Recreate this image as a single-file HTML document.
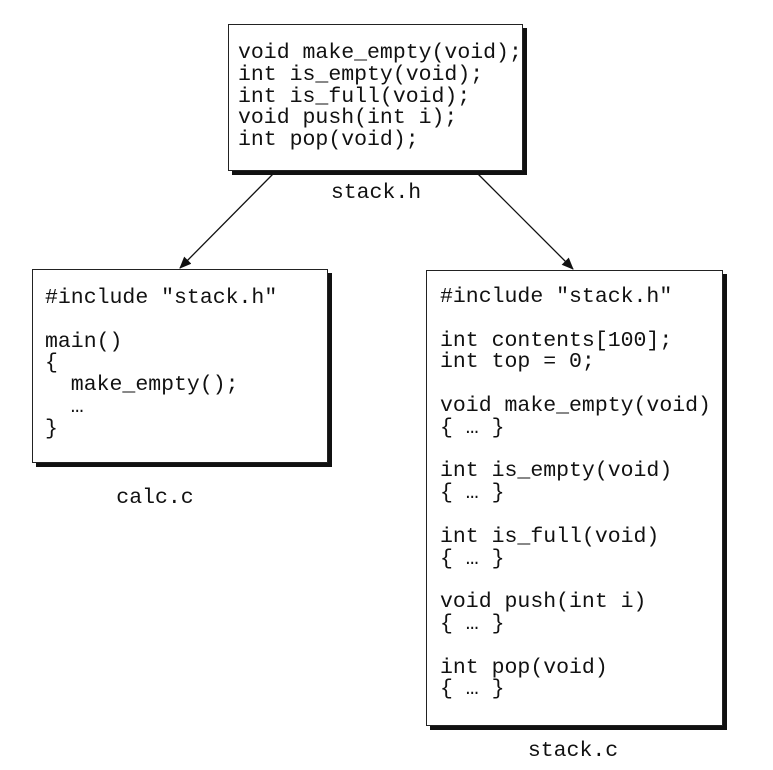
<!DOCTYPE html>
<html><head><meta charset="utf-8"><style>
body{margin:0;background:#fff;width:773px;height:770px;position:relative;overflow:hidden;font-family:"Liberation Mono",monospace;color:#111}
.box{position:absolute;border:1.5px solid #222;box-shadow:4px 4px 0 #111;background:#fff;box-sizing:border-box}
pre{position:absolute;margin:0;font-family:"Liberation Mono",monospace;font-size:21.5px;line-height:21.8px;color:#111}
.lbl{position:absolute;font-size:21.5px;transform:translateX(-50%);white-space:nowrap}
</style></head><body>
<div class="box" style="left:228px;top:24px;width:295px;height:147px"></div>
<pre style="left:238px;top:43px">void make_empty(void);
int is_empty(void);
int is_full(void);
void push(int i);
int pop(void);</pre>
<div class="lbl" style="left:376px;top:181px">stack.h</div>

<div class="box" style="left:32px;top:269px;width:296px;height:194px"></div>
<pre style="left:45px;top:288px">#include "stack.h"

main()
{
  make_empty();
  …
}</pre>
<div class="lbl" style="left:155px;top:486px">calc.c</div>

<div class="box" style="left:426px;top:270px;width:297px;height:456px"></div>
<pre style="left:440px;top:287px">#include "stack.h"

int contents[100];
int top = 0;

void make_empty(void)
{ … }

int is_empty(void)
{ … }

int is_full(void)
{ … }

void push(int i)
{ … }

int pop(void)
{ … }</pre>
<div class="lbl" style="left:573px;top:739px">stack.c</div>

<svg width="773" height="770" style="position:absolute;left:0;top:0">
<defs><marker id="a" markerWidth="12" markerHeight="10" refX="11" refY="5" orient="auto" markerUnits="userSpaceOnUse"><path d="M0,0 L12,5 L0,10 z" fill="#111"/></marker></defs>
<line x1="273" y1="174" x2="180" y2="268" stroke="#111" stroke-width="1.3" marker-end="url(#a)"/>
<line x1="478" y1="174" x2="573" y2="269" stroke="#111" stroke-width="1.3" marker-end="url(#a)"/>
</svg>
</body></html>
